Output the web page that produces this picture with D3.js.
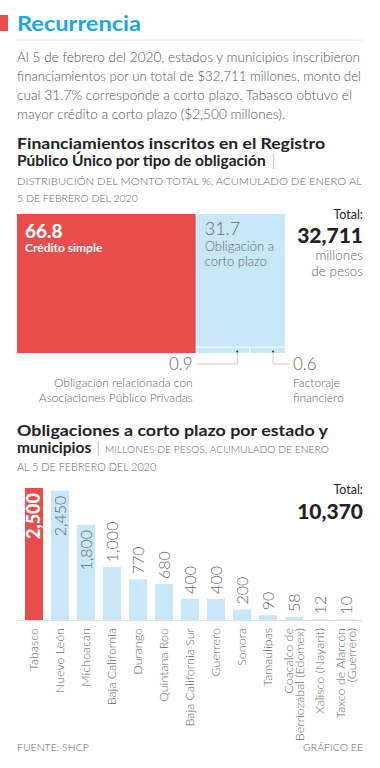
<!DOCTYPE html>
<html>
<head>
<meta charset="UTF-8">
<title>Recurrencia</title>
<script src="https://cdn.jsdelivr.net/npm/d3@7/dist/d3.min.js"></script>
<style type="text/css">
  body { margin:0; background:white; }
  svg { display:block; font-family: Lato, "Open Sans", sans-serif; }
</style>
</head>
<body>
<script type="text/javascript">

// datos del primer grafico (porcentaje del monto total)
var tipos = ["Crédito simple", "Obligación a corto plazo", "Obligación relacionada con Asociaciones Público Privadas", "Factoraje financiero"];
var porcentajes = [66.8, 31.7, 0.9, 0.6];
var totalMonto = "32,711";

// datos del segundo grafico (millones de pesos)
var estados = ["Tabasco", "Nuevo León", "Michoacán", "Baja California", "Durango", "Quintana Roo",
  "Baja California Sur", "Guerrero", "Sonora", "Tamaulipas", "Coacalco de|Berriozábal (Edomex)",
  "Xalisco (Nayarit)", "Taxco de Alarcón|(Guerrero)"];
var montos = [2500, 2450, 1800, 1000, 770, 680, 400, 400, 200, 90, 58, 12, 10];
var totalCorto = "10,370";

var parrafo = ["Al 5 de febrero del 2020, estados y municipios inscribieron",
  "financiamientos por un total de $32,711 millones, monto del",
  "cual 31.7% corresponde a corto plazo. Tabasco obtuvo el",
  "mayor crédito a corto plazo ($2,500 millones)."];

var rojo = '#e84c4b', azul = '#c8e7f8', cyan = '#1ba8de', gris = '#666', negro = '#222';
var large = 380, haut = 768;

var svg = d3.select('body').append('svg')
  .attr('width', large)
  .attr('height', haut);

// ajusta un texto a un ancho dado
function ajusta(t, w) {
  var l = t.node().getComputedTextLength();
  if (Math.abs(l - w) > 2) t.attr('textLength', w).attr('lengthAdjust', 'spacingAndGlyphs');
  return t;
}

function texte(x, y, s, size, weight, fill, anchor) {
  return svg.append('text')
    .attr('x', x).attr('y', y)
    .attr('font-size', size)
    .attr('font-weight', weight || 400)
    .attr('fill', fill || gris)
    .attr('text-anchor', anchor || 'start')
    .text(s);
}

// --- encabezado
svg.append('rect').attr('x', 0).attr('y', 15).attr('width', 8).attr('height', 16).attr('fill', rojo);
ajusta(texte(17, 31, 'Recurrencia', 21, 700, cyan), 124);
svg.append('line').attr('x1', 17).attr('x2', 363).attr('y1', 40).attr('y2', 40)
  .attr('stroke', '#d6eef8').attr('stroke-width', 1);

var largos = [343, 344, 335, 268];
parrafo.forEach(function(l, i) {
  ajusta(texte(17, 62 + i * 19, l, 14, 300, '#555'), largos[i]);
});

// --- titulo 1
ajusta(texte(17, 149, 'Financiamientos inscritos en el Registro', 15.5, 700, negro), 308);
var t1 = texte(17, 166, '', 15.5, 700, negro);
t1.append('tspan').text('Público Único por tipo de obligación');
t1.append('tspan').attr('font-weight', 300).attr('fill', '#999').attr('dx', 6).text('|');
ajusta(texte(17, 185, 'DISTRIBUCIÓN DEL MONTO TOTAL %, ACUMULADO DE ENERO AL', 10.5, 300, gris), 345);
texte(17, 202, '5 DE FEBRERO DEL 2020', 10.5, 300, gris);

// --- treemap
var racine = d3.hierarchy({children: [
    {nom: tipos[0], v: porcentajes[0], i: 0},
    {children: [
      {nom: tipos[1], v: porcentajes[1], i: 1},
      {children: [
        {nom: tipos[2], v: porcentajes[2], i: 2},
        {nom: tipos[3], v: porcentajes[3], i: 3}
      ]}
    ]}
  ]})
  .sum(function(d) { return d.v || 0; });

d3.treemap()
  .tile(d3.treemapSliceDice)
  .size([268, 139])
  .paddingInner(1)(racine);

var gt = svg.append('g').attr('transform', 'translate(17,214)');
var feuilles = racine.leaves();
gt.selectAll('rect').data(feuilles).enter().append('rect')
  .attr('x', function(d) { return d.x0; })
  .attr('y', function(d) { return d.y0; })
  .attr('width', function(d) { return d.x1 - d.x0; })
  .attr('height', function(d) { return d.y1 - d.y0; })
  .attr('fill', function(d) { return d.data.i == 0 ? rojo : azul; });

var f0 = feuilles[0], f1 = feuilles[1], f2 = feuilles[2], f3 = feuilles[3];
// etiquetas dentro
gt.append('text').attr('x', f0.x0 + 8).attr('y', f0.y0 + 24)
  .attr('font-size', 19).attr('font-weight', 900).attr('fill', 'white').text(porcentajes[0]);
gt.append('text').attr('x', f0.x0 + 8).attr('y', f0.y0 + 38)
  .attr('font-size', 12).attr('font-weight', 700).attr('fill', 'white').text(tipos[0]);
gt.append('text').attr('x', f1.x0 + 8).attr('y', f1.y0 + 21)
  .attr('font-size', 18).attr('font-weight', 300).attr('fill', gris).text(porcentajes[1]);
gt.append('text').attr('x', f1.x0 + 8).attr('y', f1.y0 + 37)
  .attr('font-size', 13).attr('font-weight', 300).attr('fill', gris).text('Obligación a');
gt.append('text').attr('x', f1.x0 + 8).attr('y', f1.y0 + 52)
  .attr('font-size', 13).attr('font-weight', 300).attr('fill', gris).text('corto plazo');

// lineas guia para las piezas pequeñas
var yg = f2.y1 + 11;
[f2, f3].forEach(function(f, k) {
  var xp = f.x1 - 12;
  gt.append('circle').attr('cx', xp).attr('cy', f.y1 - 1.5).attr('r', 1).attr('fill', '#333');
  gt.append('path')
    .attr('d', 'M' + xp + ',' + f.y1 + 'V' + yg + 'H' + (k == 0 ? f2.x0 - 1 : f3.x1 + 5))
    .attr('fill', 'none').attr('stroke', '#ccc').attr('stroke-width', 1);
});
gt.append('text').attr('x', f2.x0 - 4).attr('y', yg + 6).attr('text-anchor', 'end')
  .attr('font-size', 17).attr('font-weight', 300).attr('fill', gris).text(porcentajes[2]);
gt.append('text').attr('x', f3.x1 + 8).attr('y', yg + 6)
  .attr('font-size', 17).attr('font-weight', 300).attr('fill', gris).text(porcentajes[3]);
gt.append('text').attr('x', f2.x0 - 4).attr('y', yg + 23).attr('text-anchor', 'end')
  .attr('font-size', 12).attr('font-weight', 300).attr('fill', gris).text('Obligación relacionada con');
gt.append('text').attr('x', f2.x0 - 4).attr('y', yg + 38).attr('text-anchor', 'end')
  .attr('font-size', 12).attr('font-weight', 300).attr('fill', gris).text('Asociaciones Público Privadas');
gt.append('text').attr('x', f3.x1 + 8).attr('y', yg + 23)
  .attr('font-size', 12).attr('font-weight', 300).attr('fill', gris).text('Factoraje');
gt.append('text').attr('x', f3.x1 + 8).attr('y', yg + 38)
  .attr('font-size', 12).attr('font-weight', 300).attr('fill', gris).text('financiero');

// total
texte(363, 219, 'Total:', 12.5, 400, negro, 'end');
texte(363, 243, totalMonto, 21, 900, negro, 'end');
texte(363, 260, 'millones', 13.5, 300, gris, 'end');
texte(363, 276, 'de pesos', 13.5, 300, gris, 'end');

// --- titulo 2
ajusta(texte(17, 436, 'Obligaciones a corto plazo por estado y', 15.5, 700, negro), 311);
var t2 = texte(17, 453, '', 15.5, 700, negro);
t2.append('tspan').text('municipios');
t2.append('tspan').attr('font-weight', 300).attr('fill', '#999').attr('dx', 5).text('|');
t2.append('tspan').attr('font-weight', 300).attr('fill', gris).attr('font-size', 10.3).attr('dx', 5)
  .text('MILLONES DE PESOS, ACUMULADO DE ENERO');
texte(17, 471, 'AL 5 DE FEBRERO DEL 2020', 10.8, 300, gris);

// --- barras
var x = d3.scaleBand()
  .domain(estados)
  .range([21, 21 + 13 * 26])
  .paddingInner(8 / 26)
  .paddingOuter(4 / 26);
var y = d3.scaleLinear()
  .domain([0, 2500])
  .range([620, 488]);

svg.append('line').attr('x1', 17).attr('x2', 363).attr('y1', y(0) + 0.5).attr('y2', y(0) + 0.5)
  .attr('stroke', '#ddd');

svg.selectAll('.barre').data(montos).enter().append('rect')
  .attr('class', 'barre')
  .attr('x', function(d, i) { return x(estados[i]); })
  .attr('y', function(d) { return y(d); })
  .attr('width', x.bandwidth())
  .attr('height', function(d) { return y(0) - y(d); })
  .attr('fill', function(d, i) { return i == 0 ? rojo : azul; });

// valores
var fmt = d3.format(',');
svg.selectAll('.val').data(montos).enter().append('text')
  .attr('class', 'val')
  .attr('transform', function(d, i) {
    var cx = x(estados[i]) + x.bandwidth() / 2 + 6;
    return 'translate(' + cx + ',' + y(d) + ') rotate(-90)';
  })
  .attr('x', function(d) { return d >= 1800 ? -5 : 5; })
  .attr('text-anchor', function(d) { return d >= 1800 ? 'end' : 'start'; })
  .attr('font-size', function(d, i) { return i == 0 ? 18 : 16; })
  .attr('font-weight', function(d, i) { return i == 0 ? 900 : 300; })
  .attr('fill', function(d, i) { return i == 0 ? 'white' : gris; })
  .text(function(d) { return fmt(d); });

// etiquetas de estados
var ge = svg.selectAll('.etiq').data(estados).enter().append('text')
  .attr('class', 'etiq')
  .attr('transform', function(d) {
    return 'translate(' + (x(d) + x.bandwidth() / 2 + 4) + ',628) rotate(-90)';
  })
  .attr('text-anchor', 'end')
  .attr('font-size', 12.5)
  .attr('font-weight', 300)
  .attr('fill', gris);
ge.each(function(d) {
  var lignes = d.split('|');
  var t = d3.select(this);
  lignes.forEach(function(l, k) {
    t.append('tspan').attr('x', 0).attr('dy', k == 0 ? (lignes.length > 1 ? -5 : 0) : 11).text(l);
  });
});

texte(363, 494, 'Total:', 12.5, 400, negro, 'end');
texte(363, 519, totalCorto, 21, 900, negro, 'end');

// --- pie
texte(17, 751, 'FUENTE: SHCP', 10.5, 300, gris);
texte(363, 751, 'GRÁFICO EE', 10.5, 300, gris, 'end');

</script>
</body>
</html>
